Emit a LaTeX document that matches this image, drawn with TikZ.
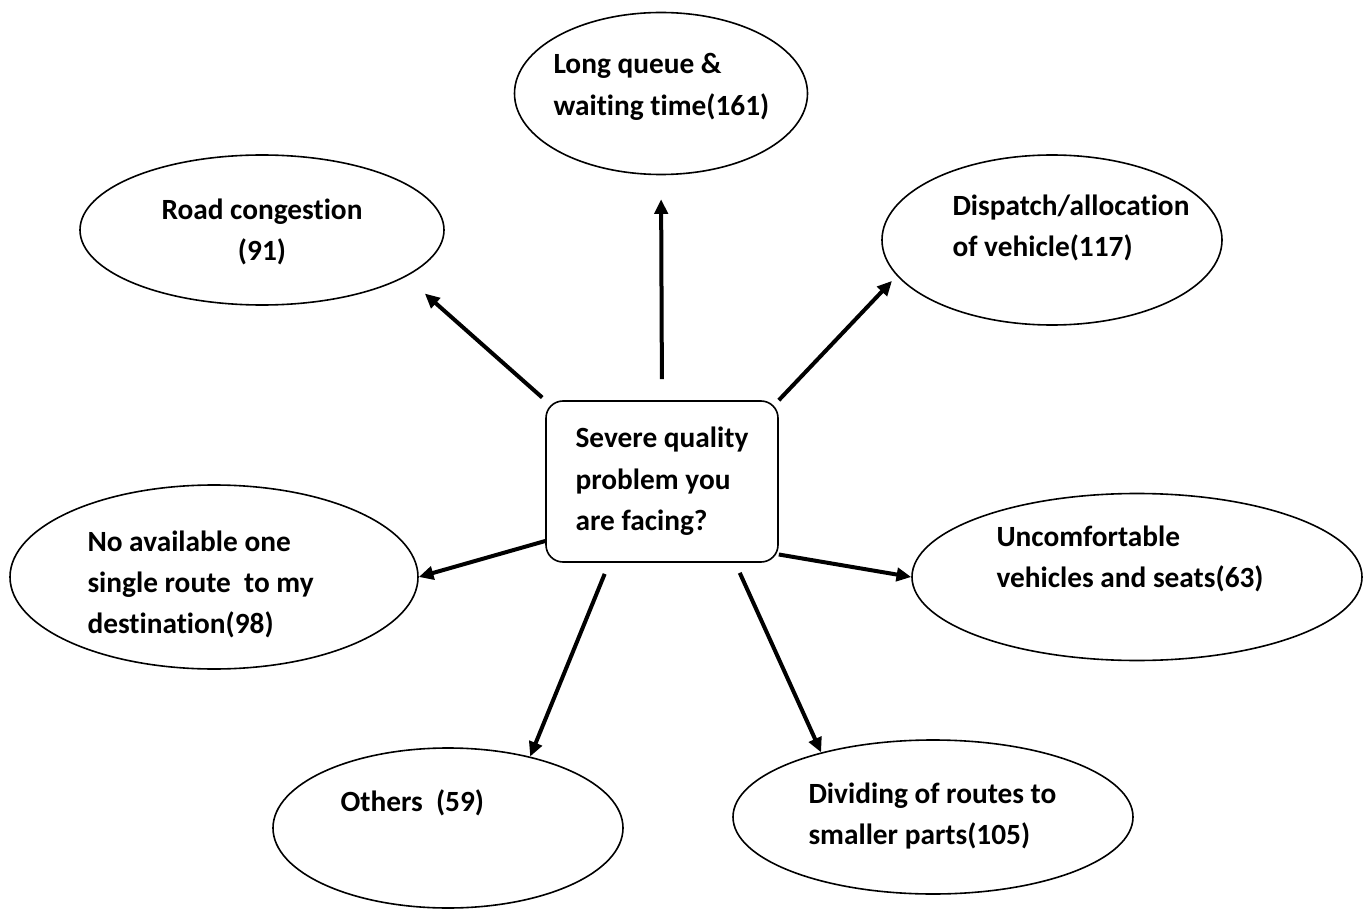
\documentclass[tikz,border=0pt]{standalone}
\usepackage{fontspec}
\setmainfont{Carlito}[Ligatures={NoCommon}]
\usepackage{tikz}
\usetikzlibrary{shapes.geometric,arrows.meta}
\tikzset{every picture/.style={line width=0.75pt}}
\newcommand{\lblfont}{\fontsize{22}{31}\selectfont\bfseries}

\begin{document}
\begin{tikzpicture}[x=0.75pt,y=0.75pt,yscale=-1,xscale=1,
	bubble/.style={draw, ellipse, line width=1.2pt, inner sep=0pt},
	txt/.style={anchor=north west, inner sep=0pt, align=left, font=\lblfont},
	arr/.style={line width=3pt, -{Triangle[length=11pt,width=10pt]}}]
	\useasboundingbox (0,0) rectangle (1364,909);
	
	%Rounded Rect [id:question]
	\node [draw, line width=1.2pt, rounded corners=12.75pt, minimum width=174pt, minimum height=120.75pt, align=left, font=\lblfont] (box) at (662,481.5) {Severe quality\\problem you\\are facing?};
	
	%Shape: Ellipse [id:answers]
	\node [bubble, minimum width=219.75pt, minimum height=121.5pt] (queue) at (661,93.5) {};
	\node [bubble, minimum width=273pt, minimum height=112.5pt] (road) at (262,230) {};
	\node [bubble, minimum width=255pt, minimum height=127.5pt] (disp) at (1052,240) {};
	\node [bubble, minimum width=306pt, minimum height=138pt] (noav) at (214,577) {};
	\node [bubble, minimum width=337.5pt, minimum height=125.25pt] (unc) at (1137,577) {};
	\node [bubble, minimum width=262.5pt, minimum height=120pt] (oth) at (448,828) {};
	\node [bubble, minimum width=300pt, minimum height=115.5pt] (divi) at (933,817) {};
	
	%Straight Lines
	\draw [arr, shorten <=15.75pt, shorten >=18pt] (box.north) -- (queue.south);
	\draw [arr, shorten <=3pt, shorten >=19pt] (box.north west) -- (road.-18);
	\draw [arr, shorten >=5.25pt] (box.north east) -- (disp.193);
	\draw [arr] (box.207) -- (noav.east);
	\draw [arr] (box.328) -- (unc.west);
	\draw [arr, shorten <=9pt] (box.237) -- (oth.41);
	\draw [arr, shorten <=8.25pt] (box.-48) -- (divi.150);
	
	\node [txt] (queuetxt) at (553,53) {Long queue \&\\waiting time(161)};
	\node [txt, anchor=north, align=center] (roadtxt) at (262,198) {Road congestion\\(91)};
	\node [txt] (disptxt) at (952,194) {Dispatch/allocation\\of vehicle(117)};
	\node [txt] (noavtxt) at (87,530) {No available one\\single route\ \ to my\\destination(98)};
	\node [txt] (unctxt) at (996,525) {Uncomfortable\\vehicles and seats(63)};
	\node [txt] (othtxt) at (340,789) {Others\ \ (59)};
	\node [txt] (divitxt) at (808,782) {Dividing of routes to\\smaller parts(105)};
\end{tikzpicture}
\end{document}
